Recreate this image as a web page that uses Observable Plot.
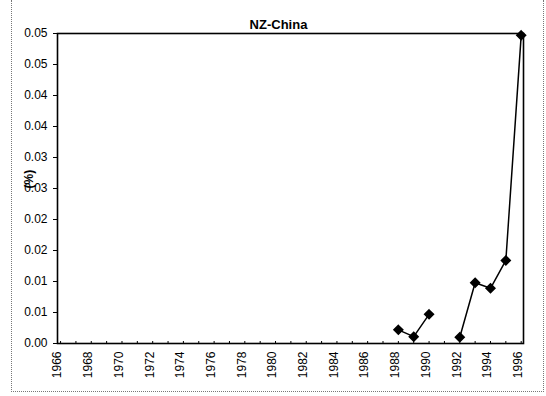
<!DOCTYPE html>
<html>
<head>
<meta charset="utf-8">
<script src="https://cdn.jsdelivr.net/npm/d3@7"></script>
<script src="https://cdn.jsdelivr.net/npm/@observablehq/plot@0.6"></script>
<style>
  html, body { margin: 0; padding: 0; background: #fff; }
  #wrap { position: relative; width: 546px; height: 396px; overflow: hidden; }
  #border { position: absolute; left: 11px; top: 0; width: 531px; height: 391px;
            border-left: 1px dotted #777; border-right: 1px dotted #777; border-bottom: 1px dotted #777; }
  #chart { position: absolute; left: 0; top: 0; }
</style>
</head>
<body>
<div id="wrap"><div id="border"></div><div id="chart"></div></div>
<script>
// Data
const years  = [1988, 1989, 1990, 1991, 1992, 1993, 1994, 1995, 1996];
const values = [0.0022, 0.0011, 0.0047, null, 0.0010, 0.0098, 0.0089, 0.0134, 0.0497];

// Axis ticks and labels
const xTicks = [1966, 1968, 1970, 1972, 1974, 1976, 1978, 1980, 1982, 1984, 1986, 1988, 1990, 1992, 1994, 1996];
const allYears = d3.range(1966, 1997);
const yTicks = [0, 0.005, 0.01, 0.015, 0.02, 0.025, 0.03, 0.035, 0.04, 0.045, 0.05];
const yTickLabels = ["0.00", "0.01", "0.01", "0.02", "0.02", "0.03", "0.03", "0.04", "0.04", "0.05", "0.05"];
const title = "NZ-China";
const yLabel = "(%)";

const data = years.map((y, i) => ({year: y, value: values[i]}));
const pts = data.filter(d => d.value != null);

const chart = Plot.plot({
  width: 546,
  height: 396,
  marginLeft: 57,
  marginRight: 23,
  marginTop: 33,
  marginBottom: 53,
  style: {fontFamily: "'Liberation Sans', Arial, sans-serif", fontSize: "12px", color: "black", background: "transparent"},
  x: {type: "linear", domain: [1965.8, 1996.15]},
  y: {domain: [0, 0.05]},
  marks: [
    Plot.ruleX(allYears, {x: d => d, insetTop: 308, stroke: "black", strokeWidth: 1}),
    Plot.frame({stroke: "black", strokeWidth: 1.6}),
    Plot.axisY({ticks: yTicks, tickFormat: (d, i) => yTickLabels[i], tickSize: 4, tickPadding: 6, label: null, fontSize: 12}),
    Plot.axisX({ticks: xTicks, tickFormat: d => String(d), tickRotate: -90, tickSize: 0, tickPadding: 8, dx: -3, label: null, fontSize: 12}),
    Plot.text([yLabel], {frameAnchor: "left", dx: -28, rotate: -90, fontWeight: "bold", fontSize: 12}),
    Plot.text([title], {frameAnchor: "top", dx: -12, dy: -14, fontWeight: "bold", fontSize: 13}),
    Plot.line(data, {x: "year", y: "value", stroke: "black", strokeWidth: 1.5}),
    Plot.dot(pts, {x: "year", y: "value", symbol: "diamond2", r: 4, fill: "black", stroke: "black"})
  ]
});
document.getElementById("chart").appendChild(chart);
</script>
</body>
</html>
